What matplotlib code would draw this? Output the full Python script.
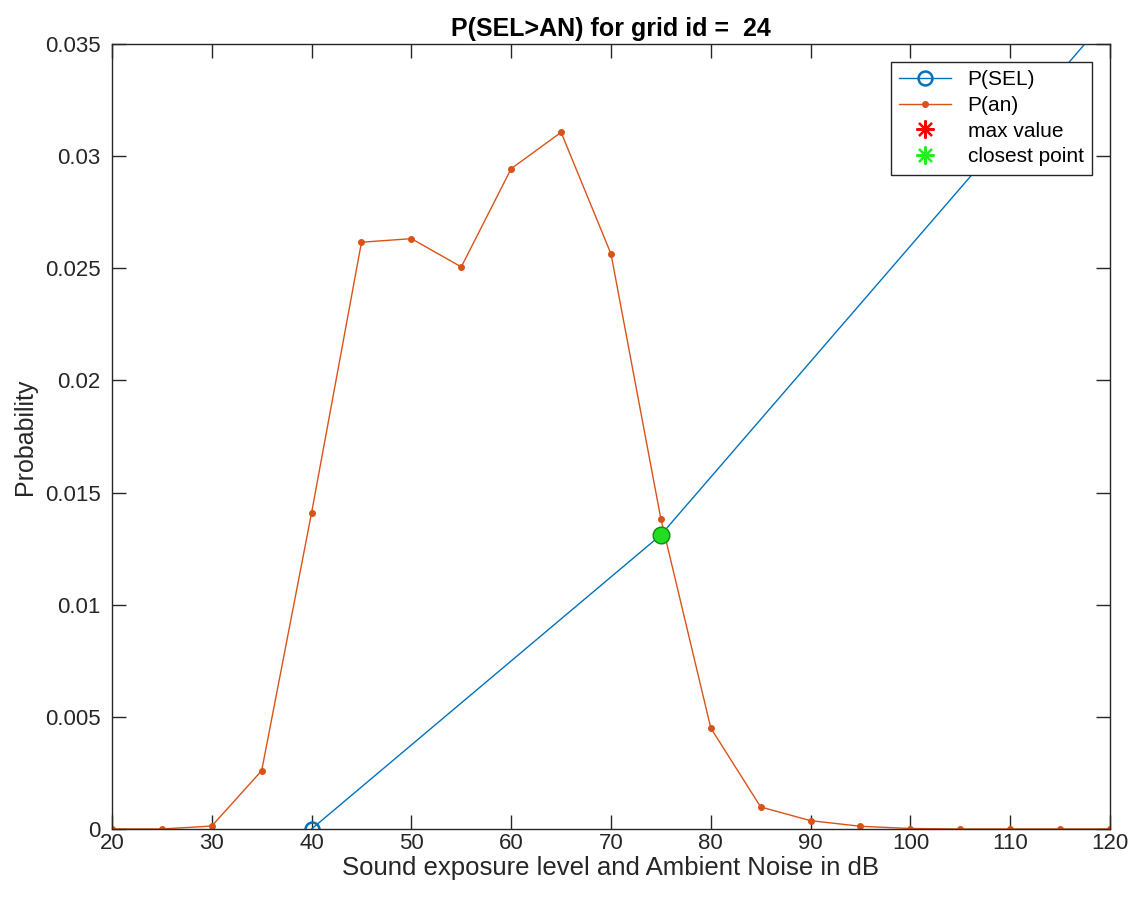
import matplotlib
matplotlib.use("Agg")
import matplotlib.pyplot as plt
import numpy as np

plt.rcParams["font.family"] = ["Liberation Sans", "DejaVu Sans"]

# P(an) distribution, 5 dB bins
an_db = [20, 25, 30, 35, 40, 45, 50, 55, 60, 65, 70, 75, 80, 85, 90, 95, 100, 105, 110, 115, 120]
p_an = [0.0, 0.0, 0.00013, 0.0026, 0.0141, 0.02616, 0.02632, 0.02506, 0.02944, 0.03106,
        0.02564, 0.01382, 0.0045, 0.00098, 0.00037, 0.00012, 0.00002, 0.0, 0.0, 0.0, 0.0]

# P(SEL) curve
sel_db = [40, 75, 120]
p_sel = [0.0, 0.01311, 0.0363]

# markers (max value is not inside the visible window)
max_x, max_y = [np.nan], [np.nan]
closest_x, closest_y = [75], [0.01311]

grid_id = 24

BLUE = "#0072BD"
ORANGE = "#D95319"
AXC = "#262626"
ASTERISK = (8, 2, 0)

fig = plt.figure(figsize=(11.38, 8.99), dpi=100)
ax = fig.add_axes([0.0984, 0.0779, 0.877, 0.8732])

ax.plot(sel_db, p_sel, "-", color=BLUE, lw=1.0, marker="o", ms=10, mfc="none",
        mec=BLUE, mew=1.8, label="P(SEL)", markevery=[0])
ax.plot(an_db, p_an, "-", color=ORANGE, lw=1.0, marker="o", ms=4, mfc=ORANGE,
        mec=ORANGE, label="P(an)")
ax.plot(max_x, max_y, ls="none", marker=ASTERISK, color="#FF0000", ms=13, mew=1.6,
        label="max value")
ax.plot(closest_x, closest_y, "o", ms=12, mfc="#22DD22", mec="#118811", mew=1.0,
        zorder=5)
ax.plot([np.nan], [np.nan], ls="none", marker=ASTERISK, color="#22EE22", ms=13, mew=1.6,
        label="closest point")

ax.set_xlim(20, 120)
ax.set_ylim(0, 0.035)
ax.set_xticks(np.arange(20, 121, 10))
ax.set_yticks(np.arange(0, 0.0351, 0.005))
ax.set_yticklabels(["0", "0.005", "0.01", "0.015", "0.02", "0.025", "0.03", "0.035"])

ax.tick_params(direction="in", length=10, width=1.0, top=True, right=True,
               labelsize=16, colors=AXC, pad=3)
ax.tick_params(axis="y", pad=8)
for s in ax.spines.values():
    s.set_color(AXC)
    s.set_linewidth(1.0)

ax.set_xlabel("Sound exposure level and Ambient Noise in dB", fontsize=18.5, color=AXC, labelpad=1)
ax.set_ylabel("Probability", fontsize=18, color=AXC, labelpad=6)
ax.set_title(f"P(SEL>AN) for grid id =  {grid_id}", fontsize=18, fontweight="bold", pad=6)

leg = ax.legend(loc="upper right", fontsize=15, frameon=True, fancybox=False,
                edgecolor=AXC, framealpha=1.0, borderaxespad=0, handlelength=2.5,
                labelspacing=0.32, borderpad=0.4, bbox_to_anchor=(0.982, 0.977))
leg.get_frame().set_linewidth(1.0)

fig.savefig("out.png", dpi=100)
